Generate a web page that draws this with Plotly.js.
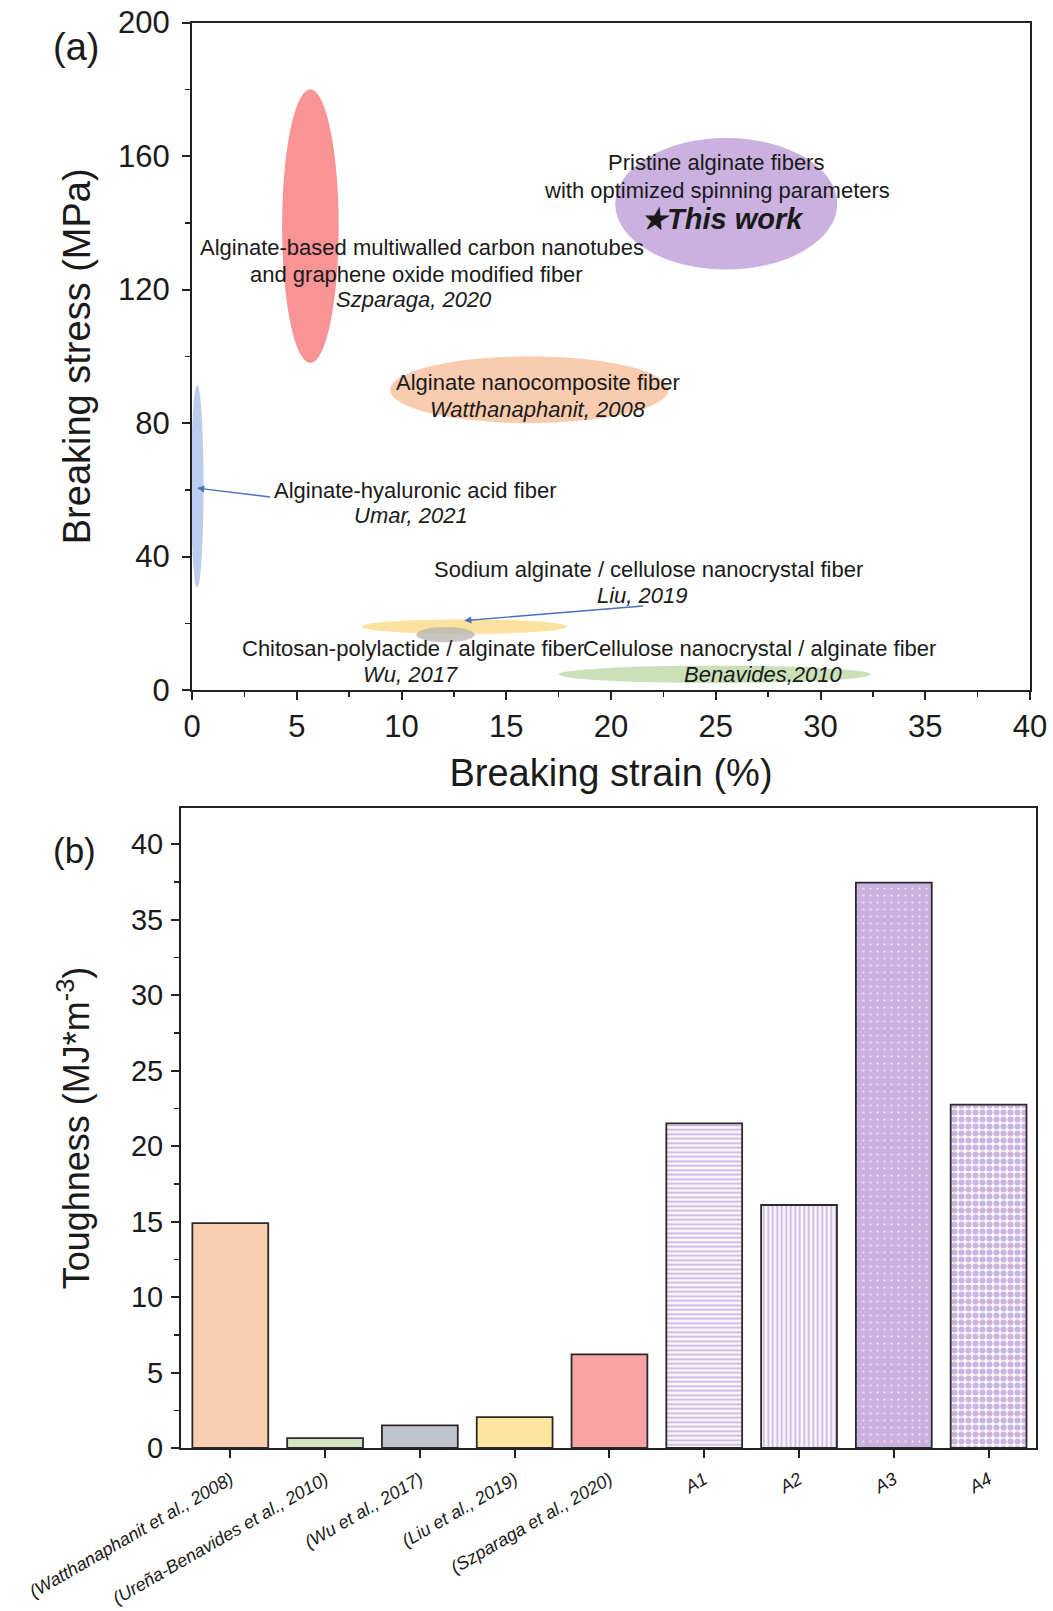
<!DOCTYPE html>
<html>
<head>
<meta charset="utf-8">
<script src="https://cdn.plot.ly/plotly-3.0.1.min.js"></script>
<style>html,body{margin:0;padding:0;background:#fff;}#chart{width:1053px;height:1611px;}</style>
</head>
<body>
<div id="chart"></div>
<script>
// ---------- Panel (a): property regions (ellipses) ----------
const regionNames   = ['Szparaga, 2020', 'This work', 'Watthanaphanit, 2008', 'Umar, 2021', 'Liu, 2019', 'Wu, 2017', 'Benavides, 2010'];
const strainCenter  = [5.65, 25.5, 16.1, 0.25, 13.0, 12.1, 24.95];   // %
const stressCenter  = [139, 145.7, 90, 61, 19, 16.6, 4.7];           // MPa
const strainHalf    = [1.35, 5.3, 6.65, 0.3, 4.9, 1.4, 7.45];        // %
const stressHalf    = [41, 19.7, 10, 30.3, 2.2, 2.3, 2.6];           // MPa
const regionColors  = ['#f7878b', '#c4a9dd', '#f8c6a6', '#b4c6ec', '#fbdf96', '#b5b3b0', '#c3ddb0'];

// ---------- Panel (b): toughness ----------
const toughCategories = ['(Watthanaphanit et al., 2008)', '(Ureña-Benavides et al., 2010)', '(Wu et al., 2017)',
                         '(Liu et al., 2019)', '(Szparaga et al., 2020)', 'A1', 'A2', 'A3', 'A4'];
const toughValues = [14.9, 0.65, 1.5, 2.05, 6.2, 21.5, 16.1, 37.45, 22.75];
const barColors   = ['#f9cdb0', '#d2e6c2', '#c0c4cc', '#fce59e', '#fba2a2', '#f6f0fb', '#f6f0fb', '#c9b2df', '#ffffff'];

const FONT = 'Liberation Sans, Arial, Helvetica, sans-serif';
const INK = '#1a1a1a';
const PURPLE = '#c9b2df';

// ellipse shapes from data
const shapes = regionNames.map((n, i) => ({
  type: 'circle', xref: 'x', yref: 'y', layer: 'below',
  x0: strainCenter[i] - strainHalf[i], x1: strainCenter[i] + strainHalf[i],
  y0: stressCenter[i] - stressHalf[i], y1: stressCenter[i] + stressHalf[i],
  fillcolor: regionColors[i], opacity: (i === 5 ? 0.75 : 0.9), line: {width: 0}
}));

function txt(x, y, text, size, anchor) {
  return {xref: 'x', yref: 'y', x: x, y: y, text: text, showarrow: false,
    font: {family: FONT, size: size || 22, color: INK}, xanchor: anchor || 'center', yanchor: 'middle'};
}

const annotations = [
  txt(11.0, 132.6, 'Alginate-based multiwalled carbon nanotubes'),
  txt(10.7, 124.6, 'and graphene oxide modified fiber'),
  txt(10.6, 116.9, '<i>Szparaga, 2020</i>'),
  txt(25.0, 158.1, 'Pristine alginate fibers'),
  txt(25.05, 149.8, 'with optimized spinning parameters'),
  txt(25.3, 141.2, '<b><i>★This work</i></b>', 29),
  txt(16.5, 92.2, 'Alginate nanocomposite fiber'),
  txt(16.5, 84.2, '<i>Watthanaphanit, 2008</i>'),
  txt(3.82, 59.9, 'Alginate-hyaluronic acid fiber', 22, 'left'),
  txt(10.45, 52.2, '<i>Umar, 2021</i>'),
  txt(21.77, 36.2, 'Sodium alginate / cellulose nanocrystal fiber'),
  txt(21.5, 28.2, '<i>Liu, 2019</i>'),
  txt(10.55, 12.5, 'Chitosan-polylactide / alginate fiber'),
  txt(10.45, 4.5, '<i>Wu, 2017</i>'),
  txt(27.1, 12.5, 'Cellulose nanocrystal / alginate fiber'),
  txt(27.26, 4.5, '<i>Benavides,2010</i>'),
  // arrows
  {xref: 'x', yref: 'y', axref: 'x', ayref: 'y', x: strainCenter[3], y: 60.5, ax: 3.8, ay: 57.8,
   text: '', showarrow: true, arrowhead: 2, arrowsize: 1, arrowwidth: 1.4, arrowcolor: '#4a6fc0', standoff: 0},
  {xref: 'x', yref: 'y', axref: 'x', ayref: 'y', x: strainCenter[4], y: 20.8, ax: 21.6, ay: 25.2,
   text: '', showarrow: true, arrowhead: 2, arrowsize: 1, arrowwidth: 1.4, arrowcolor: '#4a6fc0', standoff: 0},
  // panel labels
  {xref: 'paper', yref: 'paper', x: 76/1053, y: 1 - 47/1611, text: '(a)', showarrow: false,
   font: {family: FONT, size: 38, color: INK}, xanchor: 'center', yanchor: 'middle'},
  {xref: 'paper', yref: 'paper', x: 74/1053, y: 1 - 850/1611, text: '(b)', showarrow: false,
   font: {family: FONT, size: 35, color: INK}, xanchor: 'center', yanchor: 'middle'}
];

// invisible scatter so axes of panel (a) are drawn
const traceA = {x: strainCenter, y: stressCenter, type: 'scatter', mode: 'markers',
  marker: {opacity: 0}, hoverinfo: 'skip', xaxis: 'x', yaxis: 'y', text: regionNames};

const patterns = toughCategories.map((c, i) => {
  if (c === 'A1') return {shape: '-', fgcolor: '#c7b0df', bgcolor: '#f8f4fc', size: 4.5, solidity: 0.35, fillmode: 'replace'};
  if (c === 'A2') return {shape: '|', fgcolor: '#c7b0df', bgcolor: '#f8f4fc', size: 4.5, solidity: 0.35, fillmode: 'replace'};
  if (c === 'A3') return {shape: '.', fgcolor: '#f1e9f8', bgcolor: PURPLE, size: 7, solidity: 0.07, fillmode: 'replace'};
  if (c === 'A4') return {shape: '.', fgcolor: '#cbb5e0', bgcolor: '#fbf8fd', size: 7, solidity: 0.6, fillmode: 'replace'};
  return {shape: ''};
});

const bars = toughCategories.map((c, i) => ({
  type: 'bar', x: [c], y: [toughValues[i]], xaxis: 'x2', yaxis: 'y2', width: 0.8,
  marker: {color: barColors[i], line: {color: '#2a2a2a', width: 1.8}, pattern: patterns[i]},
  hoverinfo: 'x+y'
}));

const axisCommon = {showline: true, linecolor: '#222', linewidth: 2, mirror: true, ticks: 'outside',
  ticklen: 8, tickwidth: 2, tickcolor: '#222', showgrid: false, zeroline: false};

const layout = {
  width: 1053, height: 1611, margin: {l: 0, r: 0, t: 0, b: 0},
  paper_bgcolor: '#fff', plot_bgcolor: '#fff', showlegend: false, barmode: 'overlay',
  font: {family: FONT, color: INK},
  xaxis: Object.assign({}, axisCommon, {domain: [192/1053, 1030/1053], anchor: 'y', range: [0, 40], dtick: 5,
    minor: {dtick: 2.5, ticks: 'outside', ticklen: 5, tickwidth: 1.5, tickcolor: '#222'},
    tickfont: {size: 31, family: FONT, color: INK}, ticklabelstandoff: 0,
    title: {text: 'Breaking strain (%)', font: {size: 38, family: FONT, color: INK}, standoff: 16}}),
  yaxis: Object.assign({}, axisCommon, {domain: [1 - 690/1611, 1 - 22.6/1611], anchor: 'x', range: [0, 200], dtick: 40,
    minor: {dtick: 20, ticks: 'outside', ticklen: 5, tickwidth: 1.5, tickcolor: '#222'},
    tickfont: {size: 31, family: FONT, color: INK}, ticklabelstandoff: 6,
    title: {text: 'Breaking stress (MPa)', font: {size: 38, family: FONT, color: INK}, standoff: 16}}),
  xaxis2: Object.assign({}, axisCommon, {domain: [181/1053, 1036/1053], anchor: 'y2', type: 'category',
    range: [-0.52, 8.5], tickangle: -30, categoryorder: 'array', categoryarray: toughCategories,
    ticklabelstandoff: 4,
    tickfont: {size: 18, family: FONT, color: INK, style: 'italic'}}),
  yaxis2: Object.assign({}, axisCommon, {domain: [1 - 1448/1611, 1 - 808/1611], anchor: 'x2', range: [0, 42.4], dtick: 5,
    minor: {dtick: 2.5, ticks: 'outside', ticklen: 5, tickwidth: 1.5, tickcolor: '#222'},
    tickfont: {size: 29, family: FONT, color: INK}, ticklabelstandoff: 2,
    title: {text: 'Toughness (MJ*m<sup>-3</sup>)', font: {size: 36, family: FONT, color: INK}, standoff: 30}}),
  shapes: shapes,
  annotations: annotations
};

Plotly.newPlot('chart', [traceA].concat(bars), layout, {displayModeBar: false, staticPlot: true});
</script>
</body>
</html>
